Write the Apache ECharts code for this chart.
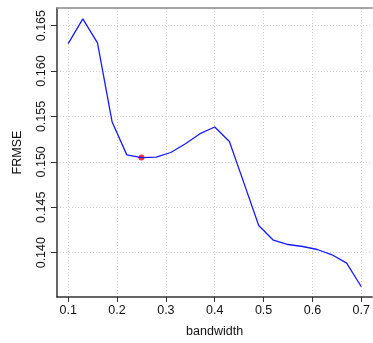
<!DOCTYPE html>
<html><head><meta charset="utf-8">
<script src="https://cdn.jsdelivr.net/npm/echarts@6/dist/echarts.min.js"></script>
<style>html,body{margin:0;padding:0;background:#fff}#c{width:373px;height:343px}</style>
</head><body><div id="c"></div>
<script>
const bandwidth = [0.10,0.13,0.16,0.19,0.22,0.25,0.28,0.31,0.34,0.37,0.40,0.43,0.46,0.49,0.52,0.55,0.58,0.61,0.64,0.67,0.70];
const frmse = [0.16302,0.16574,0.16310,0.15438,0.15077,0.15047,0.15052,0.15103,0.15200,0.15310,0.15384,0.15225,0.14763,0.14299,0.14137,0.14090,0.14068,0.14035,0.13977,0.13885,0.13625];
const bestPoint = [0.25, 0.15047];
const xTicks = [0.1,0.2,0.3,0.4,0.5,0.6,0.7];
const yTicks = [0.140,0.145,0.150,0.155,0.160,0.165];

const font = 'Liberation Sans, Arial, sans-serif';
const chart = echarts.init(document.getElementById('c'), null, {renderer:'canvas'});
chart.setOption({
  animation:false,
  grid:{left:57, top:8, right:-3, bottom:45.3, containLabel:false},
  xAxis:[{
    type:'value', min:0.07715, max:0.7223,
    name:'bandwidth', nameLocation:'middle', nameGap:28,
    nameTextStyle:{fontFamily:font, fontSize:12.5, color:'#111'},
    axisLine:{show:true, onZero:false, lineStyle:{color:'#333', width:1.5}},
    axisTick:{show:true, length:5, customValues:xTicks, lineStyle:{color:'#333'}},
    axisLabel:{customValues:xTicks, margin:7, fontFamily:font, fontSize:12.5, color:'#111', formatter:v=>String(+v.toFixed(1))},
    splitLine:{show:true, lineStyle:{color:'#d3d3d3', type:[1,2], width:1}}
  },{
    type:'value', position:'top', min:0.07715, max:0.7223,
    axisLine:{show:true, onZero:false, lineStyle:{color:'#888', width:1.5}},
    axisTick:{show:false}, axisLabel:{show:false}, splitLine:{show:false}
  }],
  yAxis:{
    type:'value', min:0.13512, max:0.16694,
    name:'FRMSE', nameLocation:'middle', nameGap:33, nameRotate:90,
    nameTextStyle:{fontFamily:font, fontSize:12.5, color:'#111'},
    axisLine:{show:true, onZero:false, lineStyle:{color:'#333', width:1.5}},
    axisTick:{show:true, length:6, customValues:yTicks, lineStyle:{color:'#333'}},
    axisLabel:{customValues:yTicks, rotate:90, margin:9, fontFamily:font, fontSize:12.5, color:'#111', formatter:v=>v.toFixed(3)},
    splitLine:{show:true, lineStyle:{color:'#d3d3d3', type:[1,2], width:1}}
  },
  series:[{
    type:'line', data:bandwidth.map((b,i)=>[b,frmse[i]]),
    showSymbol:false, symbol:'none', lineStyle:{color:'#1a1aff', width:1.3}
  },{
    type:'scatter', data:[bestPoint], symbol:'circle', symbolSize:6,
    itemStyle:{color:'#ff0000'}
  }]
});
</script></body></html>
